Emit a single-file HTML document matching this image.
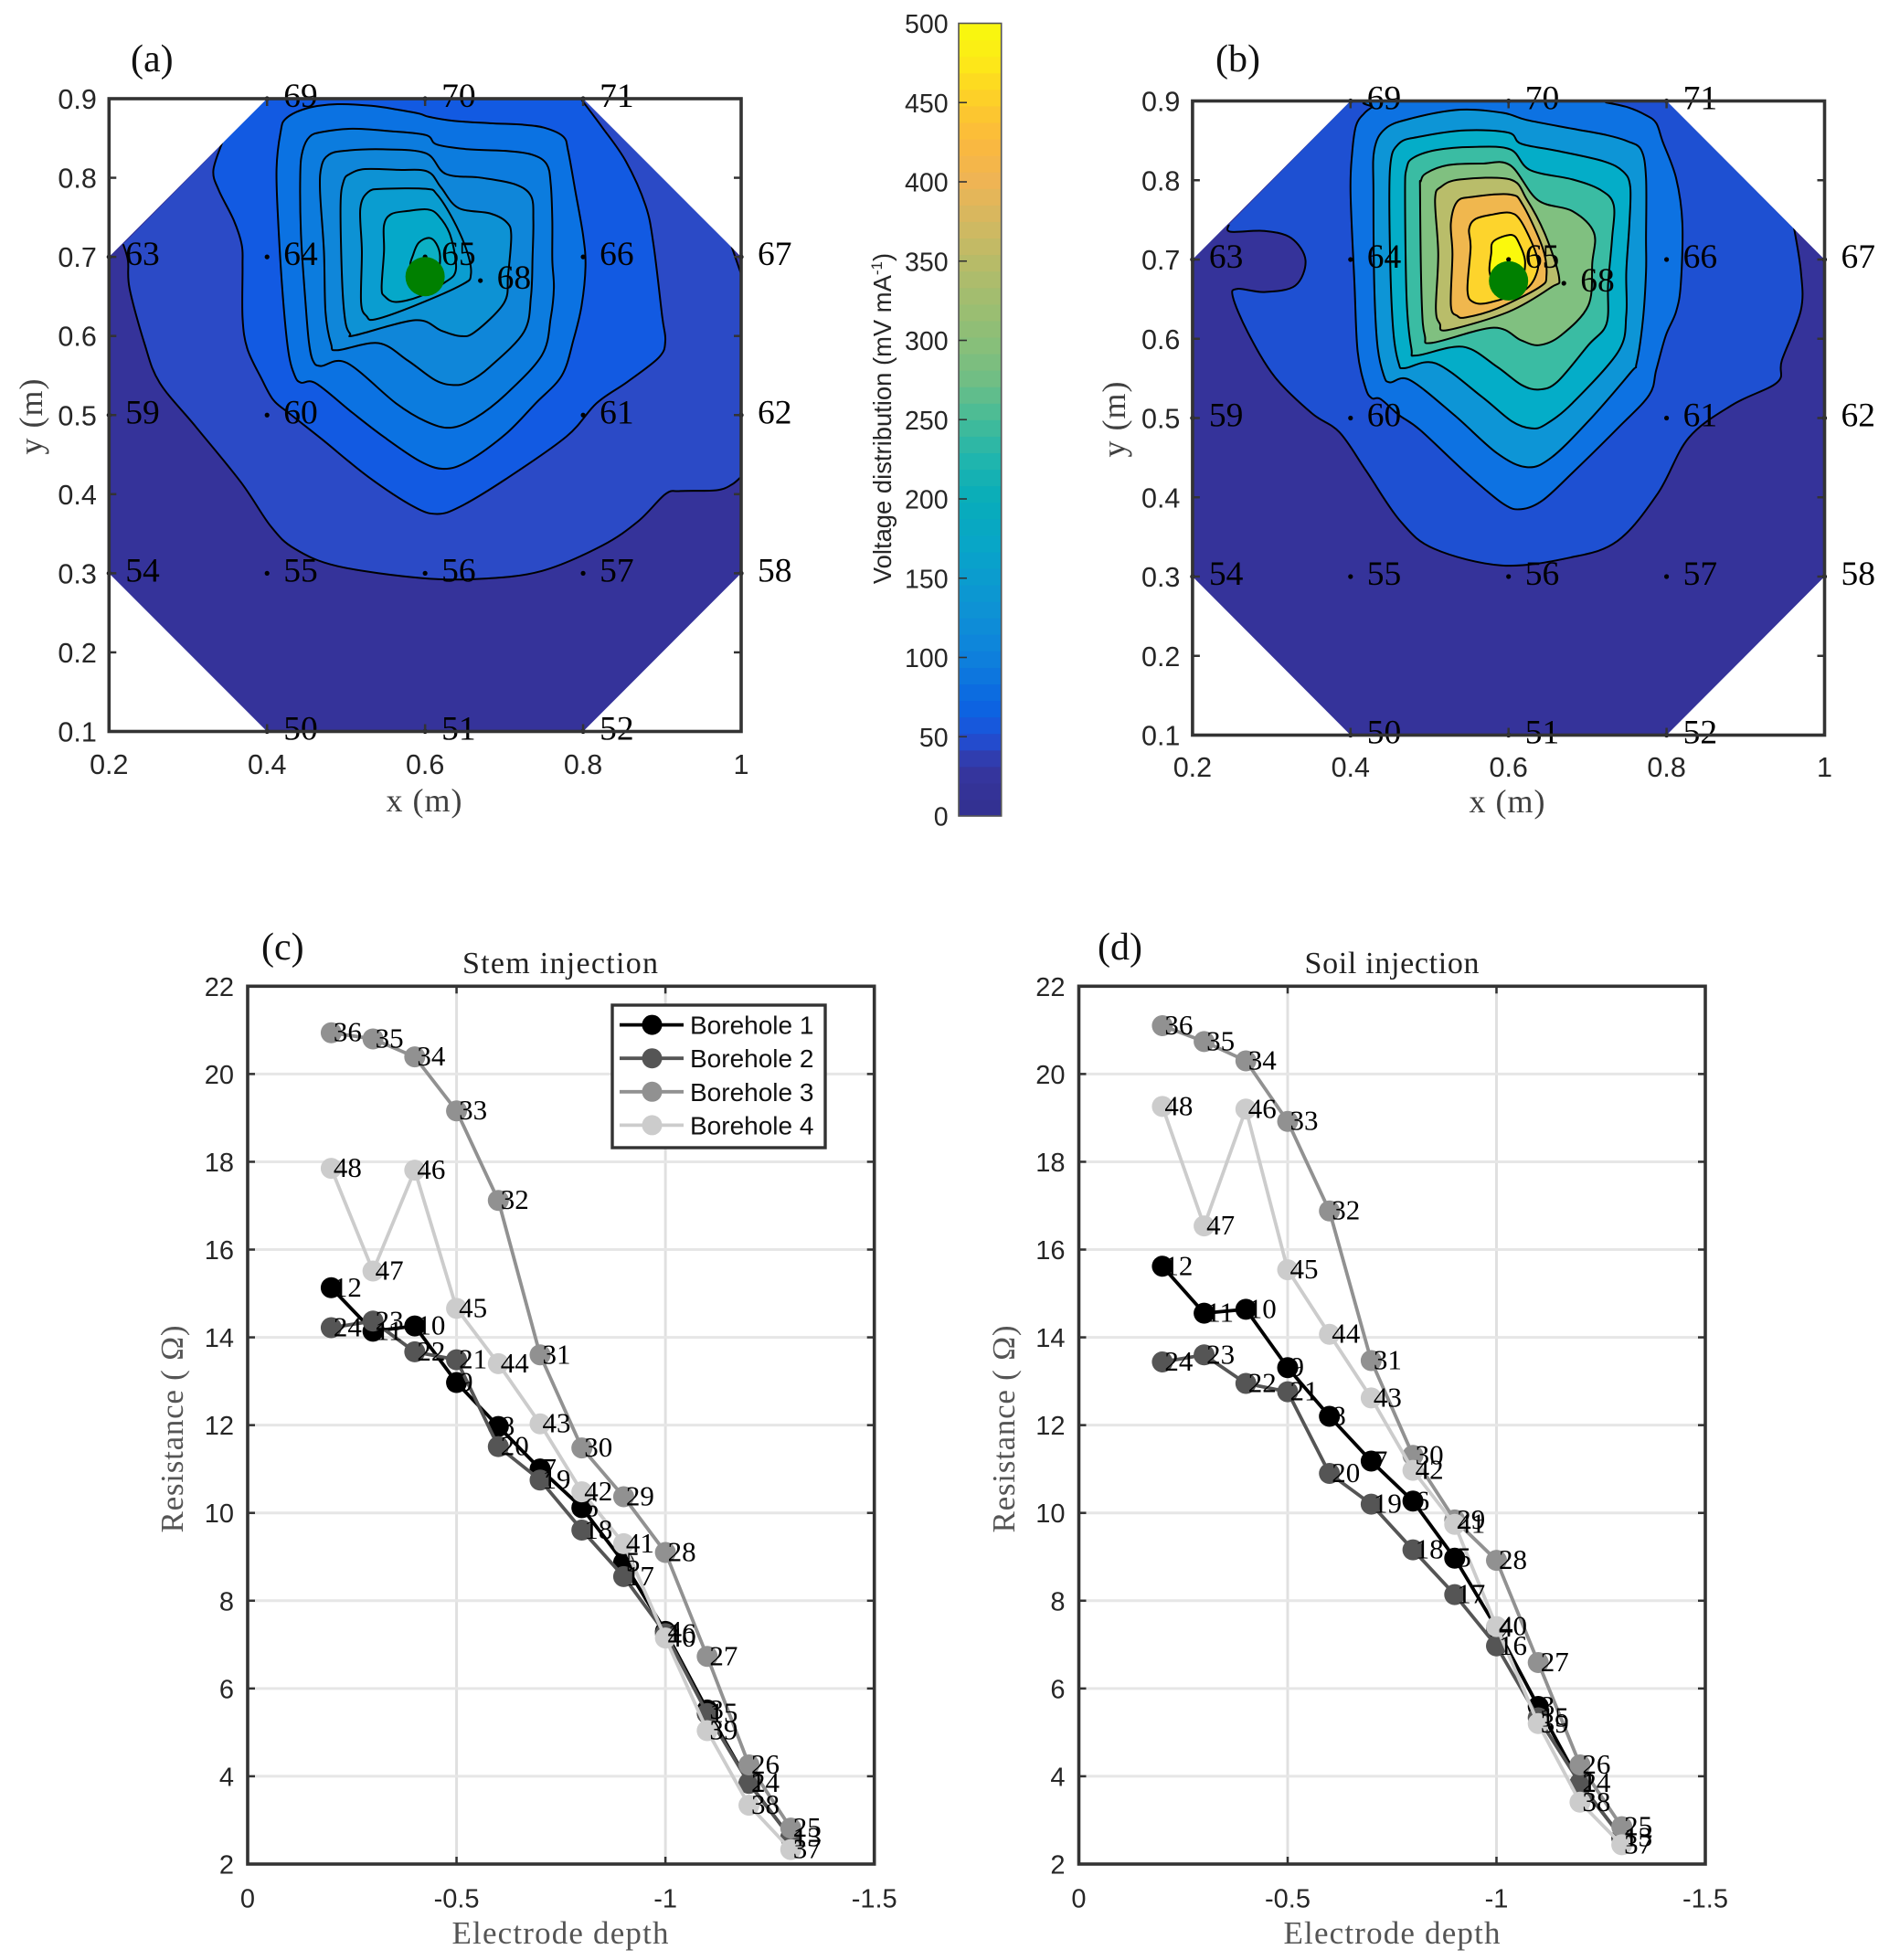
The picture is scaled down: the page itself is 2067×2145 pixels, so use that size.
<!DOCTYPE html>
<html lang="en">
<head>
<meta charset="utf-8">
<title>Voltage distribution and electrode resistance</title>
<style>
html,body{margin:0;padding:0;background:#fff;}
svg{display:block;}
.sans{font-family:"Liberation Sans",sans-serif;}
.serif{font-family:"Liberation Serif",serif;}
</style>
</head>
<body>
<svg id="figure" xmlns="http://www.w3.org/2000/svg" width="2067" height="2145" viewBox="0 0 2067 2145">
  <rect width="2067" height="2145" fill="#ffffff"/>

  <g id="panel-a"></g>
  <g id="panel-b"></g>
  <g id="colorbar"></g>
  <g id="panel-c"></g>
  <g id="panel-d"></g>

  <text class="serif" x="143" y="78" font-size="42" fill="#111">(a)</text>
  <text class="serif" x="1330" y="78" font-size="42" fill="#111">(b)</text>
  <text class="serif" x="286" y="1050" font-size="42" fill="#111">(c)</text>
  <text class="serif" x="1201" y="1050" font-size="42" fill="#111">(d)</text>

  <text class="serif" x="464" y="888" font-size="36" fill="#404040" text-anchor="middle" textLength="83">x (m)</text>
  <text class="serif" transform="translate(46 456) rotate(-90)" font-size="36" fill="#404040" text-anchor="middle" textLength="83">y (m)</text>
  <text class="serif" x="1649" y="889" font-size="36" fill="#404040" text-anchor="middle" textLength="83">x (m)</text>
  <text class="serif" transform="translate(1231 459) rotate(-90)" font-size="36" fill="#404040" text-anchor="middle" textLength="83">y (m)</text>

  <text class="sans" transform="translate(975 458) rotate(-90)" font-size="27.4" fill="#262626" text-anchor="middle">Voltage distribution  (mV mA<tspan font-size="17" dy="-10">-1</tspan><tspan dy="10">)</tspan></text>

  <text class="serif" x="613" y="1065" font-size="34" fill="#222" text-anchor="middle" textLength="214">Stem injection</text>
  <text class="serif" x="1523" y="1065" font-size="34" fill="#222" text-anchor="middle" textLength="191">Soil injection</text>
  <text class="serif" x="613" y="2127" font-size="35" fill="#555" text-anchor="middle" textLength="237">Electrode depth</text>
  <text class="serif" x="1523" y="2127" font-size="35" fill="#555" text-anchor="middle" textLength="237">Electrode depth</text>
  <text class="serif" transform="translate(200 1564) rotate(-90)" font-size="35" fill="#555" text-anchor="middle" textLength="227">Resistance ( Ω)</text>
  <text class="serif" transform="translate(1110 1564) rotate(-90)" font-size="35" fill="#555" text-anchor="middle" textLength="227">Resistance ( Ω)</text>

  <g id="legend"></g>
</svg>

<script>
// ---------- Electrode grid (shared by both contour maps) ----------
var electrodeIds = [50,51,52,54,55,56,57,58,59,60,61,62,63,64,65,66,67,68,69,70,71];
var electrodeX = [0.4,0.6,0.8,0.2,0.4,0.6,0.8,1.0,0.2,0.4,0.8,1.0,0.2,0.4,0.6,0.8,1.0,0.67,0.4,0.6,0.8];
var electrodeY = [0.1,0.1,0.1,0.3,0.3,0.3,0.3,0.3,0.5,0.5,0.5,0.5,0.7,0.7,0.7,0.7,0.7,0.67,0.9,0.9,0.9];
var mapXTicks = [0.2,0.4,0.6,0.8,1];
var mapYTicks = [0.1,0.2,0.3,0.4,0.5,0.6,0.7,0.8,0.9];
var mapXTickLabels = ['0.2','0.4','0.6','0.8','1'];
var mapYTickLabels = ['0.1','0.2','0.3','0.4','0.5','0.6','0.7','0.8','0.9'];
var octagonX = [0.2,0.4,0.8,1,1,0.8,0.4,0.2];
var octagonY = [0.3,0.1,0.1,0.3,0.7,0.9,0.9,0.7];
var injectionPointA = [0.600,0.675];
var injectionPointB = [0.600,0.673];

// ---------- Panel (a) contour levels: [x,y] in metres ----------
var a1Main = [[.218,.716],[.224,.695],[.226,.660],[.245,.590],[.264,.541],[.310,.485],[.367,.415],[.405,.359],[.435,.331],[.489,.309],[.595,.294],[.672,.293],[.748,.303],[.824,.335],[.870,.366],[.904,.400],[.923,.404],[.969,.405],[.988,.412],[1.0,.422]];
var a1Corner = [[1.0,.678],[.988,.713]];
var a2 = [[.343,.844],[.332,.809],[.339,.784],[.358,.746],[.368,.715],[.369,.688],[.369,.623],[.375,.584],[.393,.546],[.408,.519],[.427,.503],[.470,.469],[.528,.422],[.586,.384],[.615,.375],[.644,.384],[.702,.419],[.779,.473],[.817,.515],[.856,.542],[.896,.573],[.904,.594],[.900,.625],[.889,.716],[.879,.765],[.854,.821],[.824,.864],[.797,.900]];
var a3 = [[.424,.875],[.451,.888],[.489,.893],[.532,.891],[.566,.886],[.593,.881],[.605,.877],[.636,.872],[.682,.869],[.725,.867],[.752,.863],[.775,.852],[.781,.834],[.790,.784],[.800,.727],[.803,.688],[.798,.638],[.788,.596],[.773,.550],[.740,.515],[.702,.476],[.655,.442],[.624,.432],[.593,.442],[.547,.473],[.508,.503],[.462,.540],[.443,.541],[.435,.550],[.427,.580],[.420,.650],[.414,.746],[.412,.811],[.417,.857]];
var a4 = [[.454,.852],[.470,.858],[.508,.862],[.555,.859],[.601,.854],[.615,.842],[.655,.836],[.702,.834],[.736,.829],[.754,.817],[.759,.792],[.761,.746],[.761,.696],[.763,.661],[.759,.623],[.748,.576],[.702,.526],[.663,.496],[.632,.484],[.601,.492],[.563,.515],[.501,.566],[.468,.562],[.458,.569],[.453,.592],[.449,.638],[.443,.727],[.442,.804],[.445,.834]];
var a5 = [[.478,.829],[.497,.834],[.547,.836],[.601,.831],[.626,.805],[.671,.800],[.713,.792],[.734,.777],[.737,.746],[.736,.700],[.734,.650],[.725,.605],[.682,.561],[.655,.542],[.636,.538],[.613,.544],[.578,.569],[.541,.591],[.489,.582],[.481,.590],[.474,.630],[.472,.707],[.467,.784],[.469,.815]];
var a6 = [[.505,.805],[.524,.811],[.566,.810],[.603,.808],[.620,.788],[.642,.762],[.682,.755],[.703,.744],[.709,.727],[.705,.677],[.700,.642],[.663,.605],[.644,.600],[.620,.607],[.588,.620],[.512,.601],[.505,.603],[.499,.619],[.495,.669],[.493,.765],[.497,.796]];
var a7 = [[.528,.782],[.547,.786],[.601,.786],[.615,.779],[.636,.746],[.653,.707],[.658,.678],[.647,.665],[.586,.638],[.537,.621],[.526,.625],[.519,.642],[.520,.707],[.518,.761]];
var a8 = [[.557,.754],[.578,.758],[.603,.760],[.617,.752],[.632,.727],[.639,.684],[.624,.667],[.593,.650],[.563,.643],[.549,.650],[.545,.661],[.548,.707],[.548,.740]];
var a9 = [[.585,.703],[.592,.718],[.605,.724],[.614,.717],[.619,.700],[.615,.677],[.599,.669],[.582,.686]];

// ---------- Panel (b) contour levels: [x,y] in metres ----------
var b1 = [[.246,.744],[.248,.735],[.291,.736],[.325,.727],[.343,.699],[.330,.667],[.291,.659],[.257,.663],[.251,.653],[.270,.608],[.304,.552],[.351,.506],[.386,.482],[.420,.433],[.463,.370],[.506,.335],[.592,.314],[.678,.324],[.738,.345],[.789,.405],[.828,.475],[.884,.517],[.940,.545],[.946,.573],[.970,.636],[.970,.685],[.961,.742]];
var b2 = [[.710,.900],[.724,.898],[.751,.892],[.774,.882],[.787,.872],[.795,.849],[.812,.803],[.820,.746],[.818,.669],[.812,.634],[.799,.604],[.787,.561],[.778,.529],[.739,.488],[.681,.431],[.643,.396],[.616,.385],[.593,.392],[.546,.431],[.488,.485],[.461,.504],[.438,.524],[.427,.525],[.419,.538],[.409,.584],[.405,.669],[.400,.784],[.402,.834],[.407,.869],[.417,.884],[.427,.892],[.440,.900]];
var b3 = [[.444,.865],[.477,.878],[.539,.889],[.593,.885],[.623,.876],[.681,.865],[.724,.857],[.751,.849],[.768,.838],[.774,.803],[.774,.726],[.774,.684],[.770,.623],[.762,.569],[.755,.558],[.701,.496],[.654,.450],[.623,.438],[.585,.456],[.531,.504],[.475,.548],[.450,.545],[.442,.554],[.434,.592],[.430,.669],[.429,.784],[.430,.838]];
var b4 = [[.461,.846],[.488,.855],[.546,.863],[.600,.860],[.616,.846],[.662,.837],[.720,.824],[.745,.811],[.754,.792],[.753,.746],[.749,.684],[.749,.630],[.739,.584],[.681,.519],[.647,.492],[.629,.487],[.604,.496],[.566,.527],[.508,.569],[.469,.563],[.461,.569],[.454,.611],[.450,.707],[.450,.815]];
var b5 = [[.479,.828],[.508,.838],[.554,.842],[.602,.839],[.627,.813],[.681,.801],[.716,.788],[.733,.769],[.731,.726],[.726,.669],[.724,.619],[.701,.592],[.662,.546],[.639,.536],[.616,.542],[.585,.565],[.542,.590],[.484,.579],[.477,.588],[.471,.650],[.469,.784],[.471,.815]];
var b6 = [[.496,.809],[.523,.819],[.566,.821],[.602,.819],[.637,.775],[.681,.761],[.708,.734],[.706,.696],[.701,.642],[.666,.604],[.639,.592],[.616,.598],[.581,.614],[.504,.595],[.494,.604],[.490,.650],[.488,.784],[.489,.799]];
var b7 = [[.515,.792],[.539,.801],[.602,.801],[.623,.776],[.647,.730],[.664,.677],[.654,.665],[.600,.634],[.523,.611],[.513,.619],[.508,.638],[.511,.707],[.507,.776]];
var b8 = [[.535,.773],[.554,.779],[.602,.782],[.618,.769],[.643,.715],[.648,.680],[.639,.665],[.585,.638],[.546,.627],[.535,.629],[.527,.642],[.529,.707],[.527,.746]];
var b9 = [[.558,.751],[.581,.757],[.602,.759],[.616,.748],[.635,.707],[.636,.684],[.620,.661],[.577,.646],[.556,.646],[.548,.661],[.552,.715],[.550,.738]];
var b10 = [[.581,.723],[.604,.731],[.614,.719],[.621,.696],[.614,.673],[.585,.669],[.576,.684],[.578,.707]];

// ---------- Colour bar ----------
var colorbarTicks = [0,50,100,150,200,250,300,350,400,450,500];
var colorbarStopValues = [0,25,40,50,70,100,130,170,200,225,250,275,300,325,350,375,400,425,450,475,500];
var colorbarStopColors = ['#333090','#35349b','#2f40b5','#1e50d8','#0b65e2','#0e80dc','#0e92d4','#08a5c8','#08adba','#20b5ad','#45bb98','#70be85','#8abf78','#a0bd70','#b8bb68','#d4b860','#eeb455','#fbb83e','#fdcc2a','#fde818','#f8fa0d'];

// ---------- Resistance profiles ----------
var depths = [-0.2,-0.3,-0.4,-0.5,-0.6,-0.7,-0.8,-0.9,-1.0,-1.1,-1.2,-1.3];
var stemBorehole1 = [15.13,14.14,14.26,12.97,11.97,11.0,10.12,8.87,7.3,5.51,3.84,2.6];
var stemBorehole2 = [14.22,14.37,13.67,13.49,11.51,10.75,9.61,8.55,7.25,5.43,3.84,2.6];
var stemBorehole3 = [20.94,20.8,20.39,19.16,17.12,13.6,11.48,10.37,9.1,6.73,4.26,2.82];
var stemBorehole4 = [17.85,15.51,17.81,14.66,13.4,12.03,10.48,9.3,7.15,5.04,3.34,2.33];
var soilBorehole1 = [15.62,14.55,14.64,13.31,12.2,11.18,10.27,8.97,7.38,5.59,3.84,2.6];
var soilBorehole2 = [13.44,13.6,12.95,12.76,10.9,10.2,9.16,8.14,6.97,5.33,3.84,2.6];
var soilBorehole3 = [21.1,20.74,20.3,18.92,16.88,13.47,11.31,9.84,8.92,6.59,4.26,2.85];
var soilBorehole4 = [19.26,16.54,19.2,15.54,14.07,12.62,10.97,9.74,7.41,5.2,3.41,2.44];
var boreholeNames = ['Borehole 1','Borehole 2','Borehole 3','Borehole 4'];
var boreholeFirstLabels = [12,24,36,48];
var depthTicks = [0,-0.5,-1,-1.5];
var depthTickLabels = ['0','-0.5','-1','-1.5'];
var resistanceTicks = [2,4,6,8,10,12,14,16,18,20,22];
var resistanceTickLabels = ['2','4','6','8','10','12','14','16','18','20','22'];

var NS = 'http://www.w3.org/2000/svg';
var BORDER = '#333333';
var TICKTEXT = '#262626';
var BOREHOLE_COLORS = ['#000000','#555555','#919191','#cccccc'];

function mk(parent, tag, attrs, text) {
  var el = document.createElementNS(NS, tag);
  for (var k in attrs) el.setAttribute(k, attrs[k]);
  if (text !== undefined) el.textContent = text;
  parent.appendChild(el);
  return el;
}
function scale(d0, d1, r0, r1) {
  return function (v) { return r0 + (v - d0) / (d1 - d0) * (r1 - r0); };
}
function spline(pts, closed, sx, sy) {
  var p = pts.map(function (q) { return [sx(q[0]), sy(q[1])]; });
  var n = p.length, d = 'M' + p[0][0].toFixed(2) + ' ' + p[0][1].toFixed(2);
  var last = closed ? n : n - 1;
  function at(i) {
    if (closed) return p[(i + n) % n];
    return p[Math.max(0, Math.min(n - 1, i))];
  }
  for (var i = 0; i < last; i++) {
    var a = at(i - 1), b = at(i), c = at(i + 1), e = at(i + 2);
    d += 'C' + (b[0] + (c[0] - a[0]) / 6).toFixed(2) + ' ' + (b[1] + (c[1] - a[1]) / 6).toFixed(2) + ' ' +
         (c[0] - (e[0] - b[0]) / 6).toFixed(2) + ' ' + (c[1] - (e[1] - b[1]) / 6).toFixed(2) + ' ' +
         c[0].toFixed(2) + ' ' + c[1].toFixed(2);
  }
  if (closed) d += 'Z';
  return d;
}
function addLineTo(d, pts, sx, sy) {
  pts.forEach(function (q) { d += 'L' + sx(q[0]).toFixed(2) + ' ' + sy(q[1]).toFixed(2); });
  return d + 'Z';
}

function drawFrame(g, box, xTicks, yTicks, sx, sy, prefix) {
  xTicks.forEach(function (t) {
    var bt = mk(g, 'line', {x1: sx(t), x2: sx(t), y1: box.bottom, y2: box.bottom - 8, stroke: BORDER, 'stroke-width': 2.5});
    
    
    var tt = mk(g, 'line', {x1: sx(t), x2: sx(t), y1: box.top, y2: box.top + 8, stroke: BORDER, 'stroke-width': 2.5});
    
    
  });
  yTicks.forEach(function (t) {
    var lt = mk(g, 'line', {x1: box.left, x2: box.left + 8, y1: sy(t), y2: sy(t), stroke: BORDER, 'stroke-width': 2.5});
    
    
    var rt = mk(g, 'line', {x1: box.right, x2: box.right - 8, y1: sy(t), y2: sy(t), stroke: BORDER, 'stroke-width': 2.5});
    
    
  });
  var frame = mk(g, 'rect', {x: box.left, y: box.top, width: box.right - box.left, height: box.bottom - box.top, fill: 'none', stroke: BORDER, 'stroke-width': 3.6});
  
  
}

function drawMap(id, box, levels, colors, marker, tickBaseline) {
  var g = document.getElementById(id);
  var sx = scale(0.2, 1, box.left, box.right);
  var sy = scale(0.1, 0.9, box.bottom, box.top);

  var defs = mk(g, 'defs', {});
  var clip = mk(defs, 'clipPath', {id: id + '-clip'});
  var octPts = octagonX.map(function (x, i) { return sx(x) + ',' + sy(octagonY[i]); }).join(' ');
  mk(clip, 'polygon', {points: octPts});

  var base = mk(g, 'polygon', {points: octPts, fill: colors[0]});
  
  

  var cg = mk(g, 'g', {'clip-path': 'url(#' + id + '-clip)'});
  
  
  levels.forEach(function (lev, i) {
    var line = spline(lev.pts, lev.closed, sx, sy);
    var fillD = lev.closed ? line : addLineTo(line, lev.boundary, sx, sy);
    var f = mk(cg, 'path', {d: fillD, fill: colors[i + 1], stroke: 'none'});
    
    
    var s = mk(cg, 'path', {d: line, fill: 'none', stroke: '#000', 'stroke-width': 2, 'stroke-linejoin': 'round'});
    
    
    if (lev.extra) {
      var ex = mk(cg, 'path', {d: spline(lev.extra, false, sx, sy), fill: 'none', stroke: '#000', 'stroke-width': 2});
      
      
    }
  });

  electrodeIds.forEach(function (eid, i) {
    var dot = mk(g, 'circle', {cx: sx(electrodeX[i]), cy: sy(electrodeY[i]), r: 2.6, fill: '#000'});
    
    
    var lab = mk(g, 'text', {x: sx(electrodeX[i]) + 18, y: sy(electrodeY[i]) + 9, 'font-size': 37.5, fill: '#000', 'class': 'serif'}, String(eid));
    
    
  });

  var inj = mk(g, 'circle', {cx: sx(marker[0]), cy: sy(marker[1]), r: 21.5, fill: '#008000'});
  
  

  drawFrame(g, box, mapXTicks, mapYTicks, sx, sy, id);

  mapXTicks.forEach(function (t, i) {
    var lab = mk(g, 'text', {x: sx(t), y: tickBaseline, 'font-size': 30.5, fill: TICKTEXT, 'text-anchor': 'middle', 'class': 'sans'}, mapXTickLabels[i]);
    
    
  });
  mapYTicks.forEach(function (t, i) {
    var lab = mk(g, 'text', {x: box.left - 13.5, y: sy(t) + 11, 'font-size': 30.5, fill: TICKTEXT, 'text-anchor': 'end', 'class': 'sans'}, mapYTickLabels[i]);
    
    
  });
}

drawMap('panel-a', {left: 119.3, right: 811, top: 108, bottom: 800.5}, [
  {pts: a1Main, closed: false, boundary: [[1,.678],[.988,.713],[.8,.9],[.4,.9]], extra: a1Corner},
  {pts: a2, closed: false, boundary: [[.4,.9]]},
  {pts: a3, closed: true},
  {pts: a4, closed: true},
  {pts: a5, closed: true},
  {pts: a6, closed: true},
  {pts: a7, closed: true},
  {pts: a8, closed: true},
  {pts: a9, closed: true}
], ['#35339a','#2b4ac6','#125ae2','#0b72e2','#0c7cde','#0f86d9','#0d92d4','#0a9dd0','#05a8c9','#0cb0c4'], injectionPointA, 847);

drawMap('panel-b', {left: 1304.9, right: 1996.5, top: 110.5, bottom: 804.5}, [
  {pts: b1, closed: false, boundary: [[.8,.9],[.4,.9]]},
  {pts: b2, closed: true},
  {pts: b3, closed: true},
  {pts: b4, closed: true},
  {pts: b5, closed: true},
  {pts: b6, closed: true},
  {pts: b7, closed: true},
  {pts: b8, closed: true},
  {pts: b9, closed: true},
  {pts: b10, closed: true}
], ['#35339a','#1e50d2','#0d72e2','#0d95d6','#04adc8','#3abca3','#80c080','#b9bd6a','#f0b74e','#fdd42c','#fbf90c'], injectionPointB, 850);

// Colour bar
(function () {
  var g = document.getElementById('colorbar');
  var box = {left: 1049, right: 1095.7, top: 25.5, bottom: 893};
  var sy = scale(0, 500, box.bottom, box.top);
  var bands = 48;
  function hex(c) { return [parseInt(c.substr(1,2),16), parseInt(c.substr(3,2),16), parseInt(c.substr(5,2),16)]; }
  function colorAt(v) {
    for (var i = 0; i < colorbarStopValues.length - 1; i++) {
      if (v <= colorbarStopValues[i + 1]) {
        var t = (v - colorbarStopValues[i]) / (colorbarStopValues[i + 1] - colorbarStopValues[i]);
        var a = hex(colorbarStopColors[i]), b = hex(colorbarStopColors[i + 1]);
        return 'rgb(' + [0,1,2].map(function (k) { return Math.round(a[k] + (b[k] - a[k]) * t); }).join(',') + ')';
      }
    }
    return colorbarStopColors[colorbarStopColors.length - 1];
  }
  for (var i = 0; i < bands; i++) {
    var v0 = i * 500 / bands, v1 = (i + 1) * 500 / bands;
    var r = mk(g, 'rect', {x: box.left, y: sy(v1), width: box.right - box.left, height: sy(v0) - sy(v1) + 0.6, fill: colorAt((v0 + v1) / 2)});
    
    
  }
  var frame = mk(g, 'rect', {x: box.left, y: box.top, width: box.right - box.left, height: box.bottom - box.top, fill: 'none', stroke: '#555', 'stroke-width': 1.6});
  
  
  colorbarTicks.forEach(function (t) {
    if (t > 0 && t < 500) {
      var tk = mk(g, 'line', {x1: box.left, x2: box.left + 9, y1: sy(t), y2: sy(t), stroke: '#333', 'stroke-width': 1.6});
      
      
    }
    var lab = mk(g, 'text', {x: 1037.6, y: sy(t) + 10.5, 'font-size': 28.5, fill: TICKTEXT, 'text-anchor': 'end', 'class': 'sans'}, String(t));
    
    
  });
})();

function drawProfiles(id, box, series) {
  var g = document.getElementById(id);
  var sx = scale(0, -1.5, box.left, box.right);
  var sy = scale(2, 22, box.bottom, box.top);

  depthTicks.forEach(function (t) {
    if (t === 0 || t === -1.5) return;
    var gl = mk(g, 'line', {x1: sx(t), x2: sx(t), y1: box.top, y2: box.bottom, stroke: '#e0e0e0', 'stroke-width': 3});
    
    
  });
  resistanceTicks.forEach(function (t) {
    if (t === 2 || t === 22) return;
    var gl = mk(g, 'line', {x1: box.left, x2: box.right, y1: sy(t), y2: sy(t), stroke: '#e6e6e6', 'stroke-width': 3});
    
    
  });

  series.forEach(function (vals, s) {
    var d = depths.map(function (x, i) { return sx(x) + ',' + sy(vals[i]); }).join(' ');
    var line = mk(g, 'polyline', {points: d, fill: 'none', stroke: BOREHOLE_COLORS[s], 'stroke-width': 3.8});
    
    
    depths.forEach(function (x, i) {
      var c = mk(g, 'circle', {cx: sx(x), cy: sy(vals[i]), r: 11.5, fill: BOREHOLE_COLORS[s]});
      
      
    });
  });
  series.forEach(function (vals, s) {
    depths.forEach(function (x, i) {
      var lab = mk(g, 'text', {x: sx(x) + 2.5, y: sy(vals[i]) + 9.5, 'font-size': 31, fill: '#000', 'class': 'serif'}, String(boreholeFirstLabels[s] - i));
      
      
    });
  });

  drawFrame(g, box, depthTicks.slice(1, 3), resistanceTicks.slice(1, 10), sx, sy, id);

  depthTicks.forEach(function (t, i) {
    var lab = mk(g, 'text', {x: sx(t), y: 2087.5, 'font-size': 29, fill: TICKTEXT, 'text-anchor': 'middle', 'class': 'sans'}, depthTickLabels[i]);
    
    
  });
  resistanceTicks.forEach(function (t, i) {
    var lab = mk(g, 'text', {x: box.left - 15, y: sy(t) + 10.5, 'font-size': 29, fill: TICKTEXT, 'text-anchor': 'end', 'class': 'sans'}, resistanceTickLabels[i]);
    
    
  });
}

drawProfiles('panel-c', {left: 271, right: 956.7, top: 1079.3, bottom: 2040}, [stemBorehole1, stemBorehole2, stemBorehole3, stemBorehole4]);
drawProfiles('panel-d', {left: 1180.5, right: 1866, top: 1079.3, bottom: 2040}, [soilBorehole1, soilBorehole2, soilBorehole3, soilBorehole4]);

// Legend
(function () {
  var g = document.getElementById('legend');
  var bg = mk(g, 'rect', {x: 670, y: 1100, width: 233, height: 156, fill: '#fff', stroke: BORDER, 'stroke-width': 3.4});
  
  
  boreholeNames.forEach(function (name, i) {
    var y = 1121.6 + i * 36.6;
    var l = mk(g, 'line', {x1: 678, x2: 748, y1: y, y2: y, stroke: BOREHOLE_COLORS[i], 'stroke-width': 3.8});
    
    
    var c = mk(g, 'circle', {cx: 713.5, cy: y, r: 11, fill: BOREHOLE_COLORS[i]});
    
    
    var t = mk(g, 'text', {x: 755, y: y + 10, 'font-size': 28, fill: '#111', 'class': 'sans'}, name);
    
    
  });
})();
</script>
</body>
</html>
